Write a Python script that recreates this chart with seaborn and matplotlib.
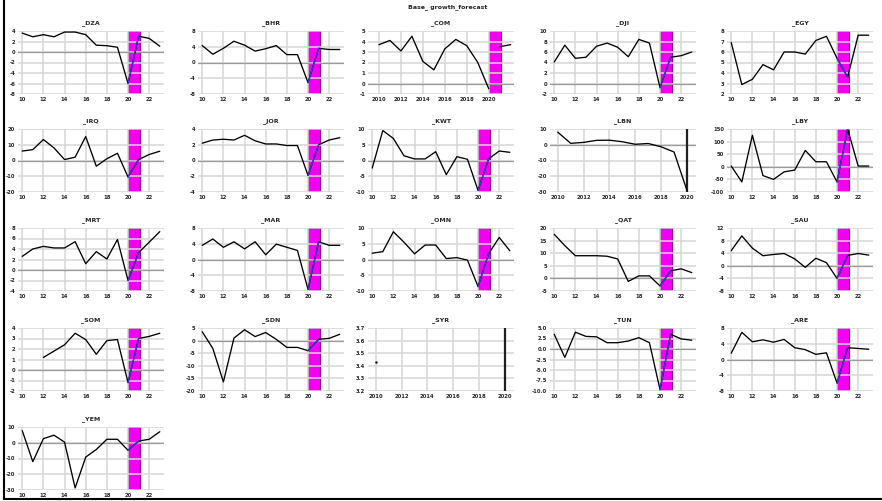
import matplotlib
matplotlib.use("Agg")
import matplotlib.pyplot as plt
import seaborn as sns
import pandas as pd
from matplotlib.lines import Line2D

sns.set_theme(style="whitegrid")
plt.rcParams["font.family"] = ["DejaVu Sans"]

# ---- data: real GDP growth (%) by country ----
years = list(range(2010, 2024))
years_com = list(range(2010, 2023))
years_hist = list(range(2010, 2021))
years_som = list(range(2012, 2024))
years_syr = [2010]

dza = [3.6, 2.9, 3.3, 2.9, 3.8, 3.8, 3.3, 1.3, 1.2, 0.9, -6.0, 3.0, 2.6, 1.1]
bhr = [4.3, 2.1, 3.6, 5.4, 4.4, 2.9, 3.5, 4.3, 2.0, 2.0, -5.1, 3.6, 3.3, 3.3]
com = [3.7, 4.1, 3.1, 4.5, 2.1, 1.3, 3.3, 4.2, 3.6, 2.0, -0.5, 3.5, 3.7]
dji = [4.1, 7.3, 4.8, 5.0, 7.1, 7.7, 6.9, 5.1, 8.4, 7.7, -0.8, 5.0, 5.3, 6.0]
egy = [6.9, 2.9, 3.4, 4.8, 4.3, 6.0, 6.0, 5.8, 7.1, 7.5, 5.4, 3.6, 7.6, 7.6]
irq = [6.0, 6.9, 13.3, 8.0, 0.6, 2.1, 15.2, -3.6, 1.1, 4.6, -10.5, 0.6, 3.8, 5.9]
jor = [2.2, 2.6, 2.7, 2.6, 3.2, 2.5, 2.1, 2.1, 1.9, 1.9, -1.9, 2.0, 2.6, 2.9]
kwt = [-2.4, 9.5, 7.0, 1.5, 0.5, 0.5, 2.8, -4.5, 1.2, 0.4, -9.5, 0.5, 3.0, 2.6]
lbn = [8.0, 0.9, 1.5, 2.8, 2.9, 1.9, 0.3, 0.8, -1.3, -4.6, -29.0]
lby = [3, -60, 125, -35, -50, -20, -13, 65, 20, 20, -60, 150, 3, 3]
mrt = [2.6, 4.0, 4.5, 4.2, 4.2, 5.4, 1.2, 3.5, 2.1, 5.8, -2.0, 3.3, 5.3, 7.3]
mar = [3.6, 5.2, 3.1, 4.5, 2.7, 4.5, 1.2, 3.9, 3.1, 2.3, -7.6, 4.5, 3.6, 3.6]
omn = [2.0, 2.5, 8.8, 5.5, 1.8, 4.6, 4.6, 0.3, 0.6, -0.2, -8.6, 1.8, 7.0, 2.8]
qat = [17.5, 13.0, 9.0, 9.0, 9.0, 8.8, 7.7, -1.2, 1.0, 1.0, -3.0, 3.0, 3.8, 2.3]
sau = [4.8, 9.5, 5.6, 3.2, 3.6, 3.9, 2.2, -0.5, 2.4, 1.0, -4.0, 3.3, 3.9, 3.4]
som = [1.2, 1.8, 2.4, 3.5, 2.9, 1.5, 2.8, 2.9, -1.2, 3.0, 3.2, 3.5]
sdn = [3.5, -3.1, -16.4, 1.0, 4.3, 1.6, 3.2, 0.5, -2.7, -2.7, -4.0, 0.5, 0.9, 2.5]
syr = [3.43]
tun = [3.5, -2.0, 4.0, 3.0, 2.9, 1.5, 1.5, 1.9, 2.7, 1.5, -9.7, 3.5, 2.4, 2.1]
are = [1.6, 6.9, 4.5, 5.0, 4.4, 5.1, 3.0, 2.5, 1.3, 1.7, -6.0, 3.0, 2.8, 2.6]
yem = [7.7, -12.0, 2.6, 4.8, 0.4, -28.7, -9.1, -4.3, 2.2, 2.2, -4.8, 1.1, 2.2, 7.0]

# title, x, y, y-limits, y-step, x-axis kind
panels = [
    ("_DZA", years, dza, (-8, 4), 2, "full"),
    ("_BHR", years, bhr, (-8, 8), 4, "full"),
    ("_COM", years_com, com, (-1, 5), 1, "com"),
    ("_DJI", years, dji, (-2, 10), 2, "full"),
    ("_EGY", years, egy, (2, 8), 1, "full"),
    ("_IRQ", years, irq, (-20, 20), 10, "full"),
    ("_JOR", years, jor, (-4, 4), 2, "full"),
    ("_KWT", years, kwt, (-10, 10), 5, "full"),
    ("_LBN", years_hist, lbn, (-30, 10), 10, "hist"),
    ("_LBY", years, lby, (-100, 150), 50, "full"),
    ("_MRT", years, mrt, (-4, 8), 2, "full"),
    ("_MAR", years, mar, (-8, 8), 4, "full"),
    ("_OMN", years, omn, (-10, 10), 5, "full"),
    ("_QAT", years, qat, (-5, 20), 5, "full"),
    ("_SAU", years, sau, (-8, 12), 4, "full"),
    ("_SOM", years_som, som, (-2, 4), 1, "full"),
    ("_SDN", years, sdn, (-20, 5), 5, "full"),
    ("_SYR", years_syr, syr, (3.2, 3.7), 0.1, "hist"),
    ("_TUN", years, tun, (-10, 5), 2.5, "full"),
    ("_ARE", years, are, (-8, 8), 4, "full"),
    ("_YEM", years, yem, (-30, 10), 10, "full"),
]

W, H = 882, 501
fig = plt.figure(figsize=(W / 100, H / 100), dpi=100)

col_left = [18, 198, 368, 550, 727]
col_w = 146
row_top = [31, 129, 228, 328, 427]
row_h = 63

BAND_FACE = "#f200f2"
BAND_EDGE = "#9a009a"
GRID = "#d6d6d6"
BLUE = "#3a3ad0"

for i, (name, xs, ys, ylim, step, kind) in enumerate(panels):
    r, c = divmod(i, 5)
    ax = fig.add_axes([col_left[c] / W, 1 - (row_top[r] + row_h) / H,
                       col_w / W, row_h / H])
    df = pd.DataFrame({"year": xs, "value": ys})

    # x-axis setup
    if kind == "full":
        ax.set_xlim(2009.6, 2023.4)
        xt = list(range(2010, 2023, 2))
        ax.set_xticks(xt)
        ax.set_xticklabels([str(t)[2:] for t in xt])
    elif kind == "com":
        ax.set_xlim(2009.0, 2022.3)
        xt = list(range(2010, 2021, 2))
        ax.set_xticks(xt)
        ax.set_xticklabels([str(t) for t in xt])
    else:
        ax.set_xlim(2009.4, 2020.7)
        xt = list(range(2010, 2021, 2))
        ax.set_xticks(xt)
        ax.set_xticklabels([str(t) for t in xt])

    ax.set_ylim(*ylim)
    n = int(round((ylim[1] - ylim[0]) / step))
    yt = [ylim[0] + k * step for k in range(n + 1)]
    ax.set_yticks(yt)
    if step < 1 or name == "_TUN":
        ax.set_yticklabels([f"{v:.1f}" for v in yt])
    else:
        ax.set_yticklabels([f"{v:g}" for v in yt])

    ax.grid(True, color=GRID, lw=1.1)
    ax.set_axisbelow(True)

    # forecast window
    if kind == "hist":
        ax.axvline(2020, color="#202020", lw=1.6, zorder=2)
    else:
        ax.axvspan(2020.0, 2021.1, facecolor=BAND_FACE, edgecolor=BAND_EDGE,
                   lw=0.8, zorder=0.3)

    if ylim[0] < 0 < ylim[1]:
        ax.axhline(0, color="#9a9a9a", lw=0.9, zorder=0.7)

    if len(xs) == 1:
        sns.scatterplot(data=df, x="year", y="value", ax=ax, color="black",
                        s=3, linewidth=0, zorder=3)
    elif kind == "com":
        sns.lineplot(data=df[df.year <= 2020], x="year", y="value", ax=ax,
                     color="black", lw=0.95, zorder=3)
        sns.lineplot(data=df[df.year >= 2021], x="year", y="value", ax=ax,
                     color="black", lw=0.95, zorder=3)
    else:
        sns.lineplot(data=df, x="year", y="value", ax=ax, color="black",
                     lw=0.95, zorder=3)
        if kind == "full":
            seg = df[(df.year >= 2020) & (df.year <= 2021)]
            sns.lineplot(data=seg, x="year", y="value", ax=ax, color=BLUE,
                         lw=0.95, zorder=4)

    ax.set_xlabel("")
    ax.set_ylabel("")
    ax.set_title(name, fontsize=4.5, fontweight="bold", pad=5)
    for s in ax.spines.values():
        s.set_visible(False)
    ax.tick_params(axis="both", labelsize=3.8, length=0, pad=2)
    for lab in ax.get_xticklabels() + ax.get_yticklabels():
        lab.set_fontweight("bold")

fig.text(0.508, 0.992, "Base_ growth_forecast", ha="center", va="top",
         fontsize=4.5, fontweight="bold")

# outer frame (left and bottom edges)
fig.add_artist(Line2D([3.5 / W, 3.5 / W], [2.5 / H, 1.0], transform=fig.transFigure,
                      color="black", lw=1.5))
fig.add_artist(Line2D([3.5 / W, 1.0], [2.5 / H, 2.5 / H], transform=fig.transFigure,
                      color="black", lw=1.5))

fig.savefig("out.png", dpi=100)
